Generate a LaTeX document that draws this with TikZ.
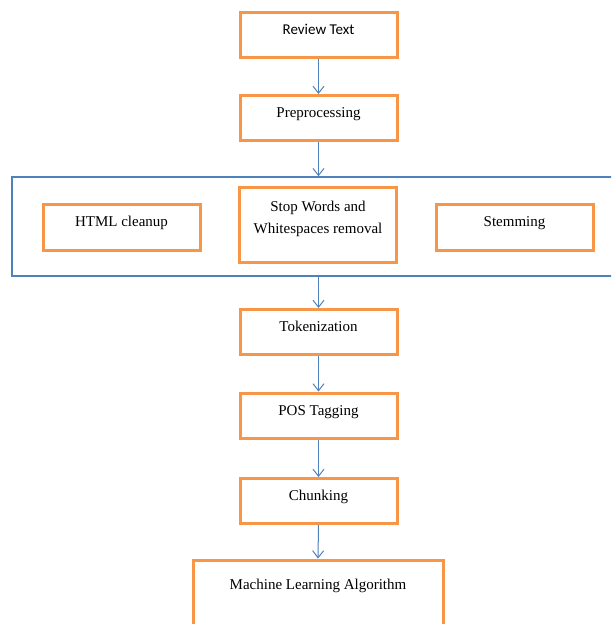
\documentclass[tikz,border=0pt]{standalone}
\usepackage{fontspec}
\setmainfont{Liberation Serif}
\newfontfamily\calibrifont{Carlito}
\usetikzlibrary{arrows.meta}

\definecolor{boxorange}{HTML}{F79646}
\definecolor{lineblue}{HTML}{4F81BD}

\tikzset{
  procbox/.style={draw=boxorange,line width=3pt,fill=white,minimum width=157pt,minimum height=45pt,inner sep=0pt},
  lbl/.style={anchor=base,align=center,font=\fontsize{15}{22}\selectfont},
  boxlabel/.style={label={[lbl,yshift=-23.5pt]north:#1}},
  flow/.style={draw=lineblue,line width=1pt,-{Straight Barb[length=7pt,width=11pt]}}
}

\begin{document}
\begin{tikzpicture}[x=1pt,y=-1pt]
    \useasboundingbox (0,0) rectangle (611,624);
    \clip (0,0) rectangle (611,624);
    \fill[white] (0,0) rectangle (611,624);

    \node[procbox,boxlabel={\calibrifont Review Text}] (review) at (318.5,35) {};
    \node[procbox,boxlabel=Preprocessing] (preproc) at (318.5,118) {};

    % Bloque de limpieza
    \node[draw=lineblue,line width=1.5pt,minimum width=613pt,minimum height=99pt,inner sep=0pt] (clean) at (318.5,226.5) {};
    \node[procbox,minimum height=46pt,boxlabel=HTML cleanup] (html) at (121.5,227) {};
    \node[procbox,minimum height=75pt,label={[lbl,anchor=center,yshift=-33pt]north:Stop Words and\\Whitespaces removal}] (stop) at (318,224.5) {};
    \node[procbox,minimum height=46pt,boxlabel=Stemming] (stem) at (514.5,227) {};

    \foreach \n/\y/\t in {
        tok/332/Tokenization,
        pos/415.5/POS Tagging,
        chunk/501/Chunking}{
      \node[procbox,boxlabel=\t] (\n) at (318.5,\y) {};
    }
    \node[procbox,minimum width=250pt,minimum height=80pt,label={[lbl,yshift=-30.5pt]north:Machine Learning Algorithm}] (ml) at (318,600) {};

    \foreach \a/\b in {review/preproc,preproc/clean,clean/tok,tok/pos,pos/chunk,chunk/ml}{
      \draw[flow] (\a.south) -- (\b.north);
    }
\end{tikzpicture}
\end{document}
